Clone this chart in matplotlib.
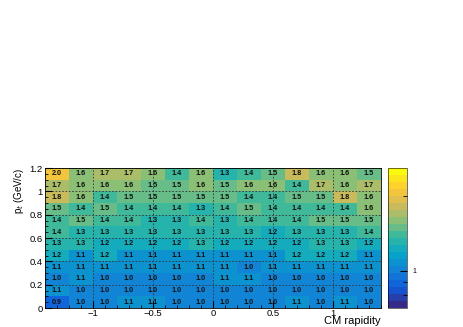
import numpy as np
import matplotlib.pyplot as plt
from matplotlib.colors import LinearSegmentedColormap, ListedColormap, LogNorm

plt.rcParams['font.family'] = ['Liberation Sans', 'DejaVu Sans']

# bin edges
rap_edges = np.linspace(-1.4, 1.4, 15)
pt_edges = np.linspace(0.0, 1.2, 13)

# ratio values, rows from pt 0-0.1 up to 1.1-1.2
row_00 = [0.9, 1.0, 1.0, 1.1, 1.1, 1.0, 1.0, 1.0, 1.0, 1.0, 1.1, 1.0, 1.1, 1.0]
row_01 = [1.1, 1.0, 1.0, 1.0, 1.0, 1.0, 1.0, 1.0, 1.0, 1.0, 1.0, 1.0, 1.0, 1.0]
row_02 = [1.0, 1.1, 1.0, 1.0, 1.0, 1.0, 1.0, 1.1, 1.1, 1.0, 1.0, 1.0, 1.0, 1.0]
row_03 = [1.1, 1.1, 1.1, 1.1, 1.1, 1.1, 1.1, 1.1, 1.0, 1.1, 1.1, 1.1, 1.1, 1.1]
row_04 = [1.2, 1.1, 1.2, 1.1, 1.1, 1.1, 1.1, 1.1, 1.1, 1.1, 1.2, 1.2, 1.2, 1.1]
row_05 = [1.3, 1.3, 1.2, 1.2, 1.2, 1.2, 1.3, 1.2, 1.2, 1.2, 1.2, 1.3, 1.3, 1.2]
row_06 = [1.4, 1.3, 1.3, 1.3, 1.3, 1.3, 1.3, 1.3, 1.3, 1.2, 1.3, 1.3, 1.3, 1.4]
row_07 = [1.4, 1.5, 1.4, 1.4, 1.3, 1.3, 1.4, 1.3, 1.4, 1.4, 1.4, 1.5, 1.5, 1.5]
row_08 = [1.5, 1.4, 1.5, 1.4, 1.4, 1.4, 1.3, 1.4, 1.5, 1.4, 1.4, 1.4, 1.4, 1.6]
row_09 = [1.8, 1.6, 1.4, 1.5, 1.5, 1.5, 1.5, 1.5, 1.4, 1.4, 1.5, 1.5, 1.8, 1.6]
row_10 = [1.7, 1.6, 1.6, 1.6, 1.5, 1.5, 1.6, 1.5, 1.6, 1.6, 1.4, 1.7, 1.6, 1.7]
row_11 = [2.0, 1.6, 1.7, 1.7, 1.6, 1.4, 1.6, 1.3, 1.4, 1.5, 1.8, 1.6, 1.6, 1.5]

z = np.array([row_00, row_01, row_02, row_03, row_04, row_05,
              row_06, row_07, row_08, row_09, row_10, row_11])

# ROOT kBird palette, 20 contour bands
bird = [(0.2082, 0.1664, 0.5293), (0.0592, 0.3599, 0.8684), (0.0780, 0.5041, 0.8385),
        (0.0232, 0.6419, 0.7914), (0.1802, 0.7178, 0.6425), (0.5301, 0.7492, 0.4662),
        (0.8186, 0.7328, 0.3499), (0.9956, 0.7862, 0.1968), (0.9764, 0.9832, 0.0539)]
smooth = LinearSegmentedColormap.from_list('bird', bird)
cmap = ListedColormap(smooth(np.linspace(0, 1, 20)))
norm = LogNorm(vmin=0.71, vmax=2.59)

fig = plt.figure(figsize=(4.63, 3.27), dpi=100)
ax = fig.add_axes([0.0972, 0.0581, 0.7257, 0.428])
cax = fig.add_axes([0.838, 0.0581, 0.041, 0.428])

mesh = ax.pcolormesh(rap_edges, pt_edges, z, cmap=cmap, norm=norm)

xc = 0.5 * (rap_edges[:-1] + rap_edges[1:])
yc = 0.5 * (pt_edges[:-1] + pt_edges[1:])
for j, y in enumerate(yc):
    for i, x in enumerate(xc):
        ax.text(x, y, f'{z[j, i]:.1f}', ha='center', va='center',
                fontsize=5.2, fontweight='bold', color='#111111')

ax.set_xlim(-1.4, 1.4)
ax.set_ylim(0, 1.2)
ax.set_xticks([-1, -0.5, 0, 0.5, 1])
ax.set_xticklabels(['\u22121', '\u22120.5', '0', '0.5', '1'])
ax.set_xticks(np.arange(-1.4, 1.41, 0.1), minor=True)
ax.set_yticks([0, 0.2, 0.4, 0.6, 0.8, 1.0, 1.2])
ax.set_yticklabels(['0', '0.2', '0.4', '0.6', '0.8', '1', '1.2'])
ax.set_yticks(np.arange(0, 1.21, 0.05), minor=True)
ax.tick_params(which='both', direction='in', top=False, right=False, labelsize=6.8, pad=1.5)
ax.tick_params(axis='x', pad=1)
ax.tick_params(which='major', length=5)
ax.tick_params(which='minor', length=2.5)
ax.grid(True, which='major', linestyle=(0, (2, 2)), linewidth=0.6, color='#333333')
for s in ax.spines.values():
    s.set_linewidth(0.6)

ax.set_xlabel('CM rapidity', fontsize=8)
ax.xaxis.label.set_ha('right')
ax.xaxis.label.set_va('top')
ax.xaxis.set_label_coords(1.0, -0.06)
ax.set_ylabel('p$_{t}$ (GeV/c)', fontsize=7, loc='top', labelpad=3)

cb = fig.colorbar(mesh, cax=cax)
cb.outline.set_linewidth(0.4)
cax.yaxis.set_ticks([1.0])
cax.yaxis.set_ticklabels(['1'])
cax.yaxis.set_ticks([0.8, 0.9, 2.0], minor=True)
cax.yaxis.set_minor_formatter(plt.NullFormatter())
cax.tick_params(which='both', direction='in', labelsize=5, pad=4)
cax.tick_params(which='major', length=5)
cax.tick_params(which='minor', length=3)

fig.savefig('out.png', dpi=100)
